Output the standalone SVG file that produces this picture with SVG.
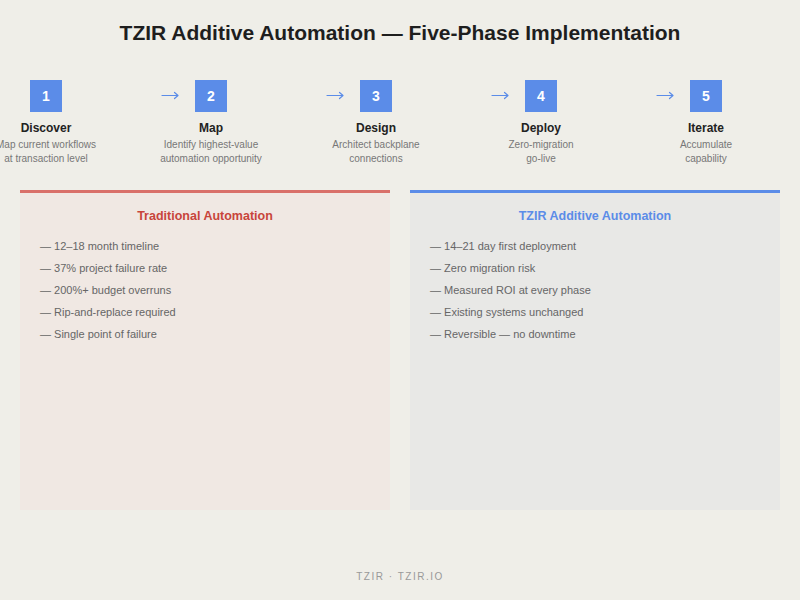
<svg xmlns="http://www.w3.org/2000/svg" width="800" height="600" viewBox="0 0 800 600">
<style>
text{font-family:"Liberation Sans",Arial,sans-serif}
.num{fill:#5b8ce8}
.numt{fill:#fff;font-size:14px;font-weight:bold;text-anchor:middle}
.ph{fill:#222;font-size:12px;font-weight:bold;text-anchor:middle}
.pd{fill:#777;font-size:10px;text-anchor:middle}
.arr{fill:none;stroke:#5b8ce8;stroke-width:1.2;stroke-linecap:round;stroke-linejoin:round}
.it{fill:#666;font-size:11px}
</style>
<rect width="800" height="600" fill="#efeee8"/>
<text x="400" y="40" text-anchor="middle" font-size="21" font-weight="bold" fill="#1e1e1e">TZIR Additive Automation — Five-Phase Implementation</text>
<g id="connectors">
<path class="arr" d="M162 95.5H178M174.5 92.5L178 95.5L174.5 98.5"/>
<path class="arr" d="M327 95.5H343M339.5 92.5L343 95.5L339.5 98.5"/>
<path class="arr" d="M492 95.5H508M504.5 92.5L508 95.5L504.5 98.5"/>
<path class="arr" d="M657 95.5H673M669.5 92.5L673 95.5L669.5 98.5"/>
</g>
<g id="phase1"><rect class="num" x="30" y="80" width="32" height="32"/><text class="numt" x="46" y="101">1</text><text class="ph" x="46" y="132">Discover</text><text class="pd" x="46" y="148">Map current workflows</text><text class="pd" x="46" y="162">at transaction level</text></g>
<g id="phase2"><rect class="num" x="195" y="80" width="32" height="32"/><text class="numt" x="211" y="101">2</text><text class="ph" x="211" y="132">Map</text><text class="pd" x="211" y="148">Identify highest-value</text><text class="pd" x="211" y="162">automation opportunity</text></g>
<g id="phase3"><rect class="num" x="360" y="80" width="32" height="32"/><text class="numt" x="376" y="101">3</text><text class="ph" x="376" y="132">Design</text><text class="pd" x="376" y="148">Architect backplane</text><text class="pd" x="376" y="162">connections</text></g>
<g id="phase4"><rect class="num" x="525" y="80" width="32" height="32"/><text class="numt" x="541" y="101">4</text><text class="ph" x="541" y="132">Deploy</text><text class="pd" x="541" y="148">Zero-migration</text><text class="pd" x="541" y="162">go-live</text></g>
<g id="phase5"><rect class="num" x="690" y="80" width="32" height="32"/><text class="numt" x="706" y="101">5</text><text class="ph" x="706" y="132">Iterate</text><text class="pd" x="706" y="148">Accumulate</text><text class="pd" x="706" y="162">capability</text></g>
<g id="traditional">
<rect x="20" y="190" width="370" height="320" fill="#f0e8e3"/>
<rect x="20" y="190" width="370" height="3" fill="#d9706a"/>
<text x="205" y="220" text-anchor="middle" font-size="12.5" font-weight="bold" fill="#c8453b">Traditional Automation</text>
<text class="it" x="40" y="250">— 12–18 month timeline</text>
<text class="it" x="40" y="272">— 37% project failure rate</text>
<text class="it" x="40" y="294">— 200%+ budget overruns</text>
<text class="it" x="40" y="316">— Rip-and-replace required</text>
<text class="it" x="40" y="338">— Single point of failure</text>
</g>
<g id="tzir">
<rect x="410" y="190" width="370" height="320" fill="#e8e8e6"/>
<rect x="410" y="190" width="370" height="3" fill="#5b8ce8"/>
<text x="595" y="220" text-anchor="middle" font-size="12.5" font-weight="bold" fill="#5b8ce8">TZIR Additive Automation</text>
<text class="it" x="430" y="250">— 14–21 day first deployment</text>
<text class="it" x="430" y="272">— Zero migration risk</text>
<text class="it" x="430" y="294">— Measured ROI at every phase</text>
<text class="it" x="430" y="316">— Existing systems unchanged</text>
<text class="it" x="430" y="338">— Reversible — no downtime</text>
</g>
<text x="400" y="580" text-anchor="middle" font-size="10" letter-spacing="1.5" fill="#999">TZIR · TZIR.IO</text>
</svg>
